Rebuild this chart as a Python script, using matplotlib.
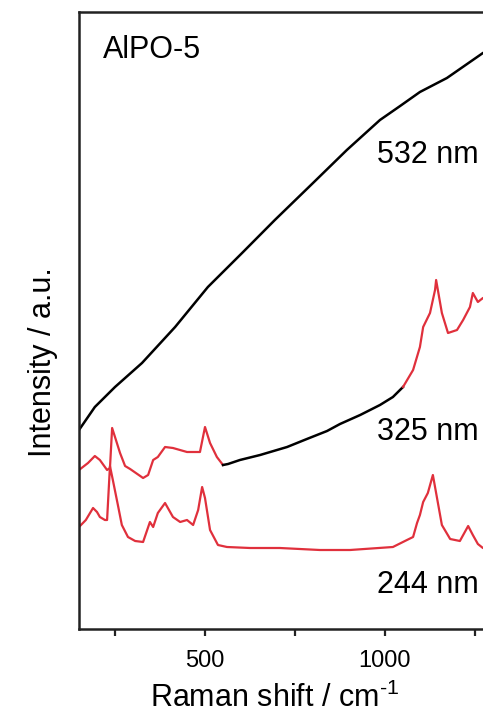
import numpy as np
import matplotlib
matplotlib.use("Agg")
import matplotlib.pyplot as plt
from matplotlib.ticker import FixedLocator, NullFormatter

plt.rcParams['font.family'] = ['Liberation Sans', 'DejaVu Sans']
plt.rcParams['mathtext.fontset'] = 'custom'
plt.rcParams['mathtext.rm'] = 'Liberation Sans'
plt.rcParams['mathtext.default'] = 'regular'

# Raman spectra of AlPO-5 at three excitation wavelengths
x_532 = [150, 194, 250, 325, 417, 508, 603, 694, 800, 894, 986, 1042, 1097, 1172, 1228, 1272, 1300]
y_532 = [199, 222, 242, 266, 302, 342, 376, 409, 446, 479, 509, 523, 537, 551, 565, 576, 580]

x_325 = [150, 175, 194, 208, 228, 236, 242, 250, 264, 278, 292, 328, 342, 356, 369, 389, 411, 450,
         486, 500, 514, 533, 550, 564, 597, 653, 728, 783, 839, 875, 931, 986, 1022, 1050,
         1078, 1097, 1106, 1125, 1139, 1142, 1158, 1175, 1200, 1217, 1236, 1244, 1258, 1272, 1300]
y_325 = [159, 166, 173, 169, 159, 161, 201, 192, 176, 163, 160, 151, 154, 169, 172, 182, 181, 177,
         177, 202, 186, 172, 164, 165, 169, 174, 182, 190, 198, 205, 214, 224, 232, 242,
         259, 282, 302, 316, 339, 349, 316, 296, 299, 309, 322, 336, 327, 331, 328]

x_244 = [150, 169, 189, 200, 208, 222, 228, 236, 244, 258, 269, 286, 306, 328, 347, 356, 369, 389,
         411, 431, 450, 467, 481, 492, 500, 514, 536, 561, 625, 708, 819, 903, 1022, 1061, 1078,
         1089, 1097, 1106, 1119, 1133, 1147, 1158, 1181, 1208, 1231, 1244, 1258, 1272, 1300]
y_244 = [102, 109, 121, 117, 112, 109, 109, 163, 149, 124, 104, 92, 88, 87, 107, 102, 116, 126,
         112, 107, 109, 104, 119, 142, 131, 99, 84, 82, 81, 81, 79, 79, 82, 89, 92,
         106, 114, 127, 136, 154, 126, 104, 90, 88, 103, 94, 85, 81, 80]

labels = ['532 nm', '325 nm', '244 nm']
label_y = [474, 197, 44]

red = '#e0303c'

fig = plt.figure(figsize=(4.83, 7.15), dpi=100)
ax = fig.add_axes([79 / 483, 1 - 629 / 715, (493 - 79) / 483, (629 - 12) / 715])

ax.plot(x_532, y_532, color='black', lw=1.8)

x3 = np.array(x_325)
y3 = np.array(y_325)
m1 = x3 <= 550
m2 = (x3 >= 550) & (x3 <= 1050)
m3 = x3 >= 1050
ax.plot(x3[m1], y3[m1], color=red, lw=1.6)
ax.plot(x3[m2], y3[m2], color='black', lw=1.8)
ax.plot(x3[m3], y3[m3], color=red, lw=1.6)

ax.plot(x_244, y_244, color=red, lw=1.6)

for lab, ly in zip(labels, label_y):
    ax.text(978, ly, lab, fontsize=22, ha='left', va='center')
ax.text(217, 579, 'AlPO-5', fontsize=22, ha='left', va='center')

ax.set_xlim(150, 1300)
ax.set_ylim(0, 617)
ax.set_yticks([])
ax.xaxis.set_major_locator(FixedLocator([500, 1000]))
ax.xaxis.set_minor_locator(FixedLocator([250, 750, 1250]))
ax.xaxis.set_minor_formatter(NullFormatter())
ax.tick_params(axis='x', which='both', direction='out', length=5, width=1.6,
               labelsize=17, pad=10, color='#222222')

for s in ax.spines.values():
    s.set_linewidth(1.8)
    s.set_color('#222222')

ax.set_xlabel('Raman shift / cm$^{\u20101}$', fontsize=22, va='center')
ax.xaxis.set_label_coords((275 - 79) / 414, (629 - 698) / 617)
ax.set_ylabel('Intensity / a.u.', fontsize=22, va='center', ha='center')
ax.yaxis.set_label_coords((43 - 79) / 414, (629 - 362) / 617)

fig.savefig('out.png', dpi=100)
